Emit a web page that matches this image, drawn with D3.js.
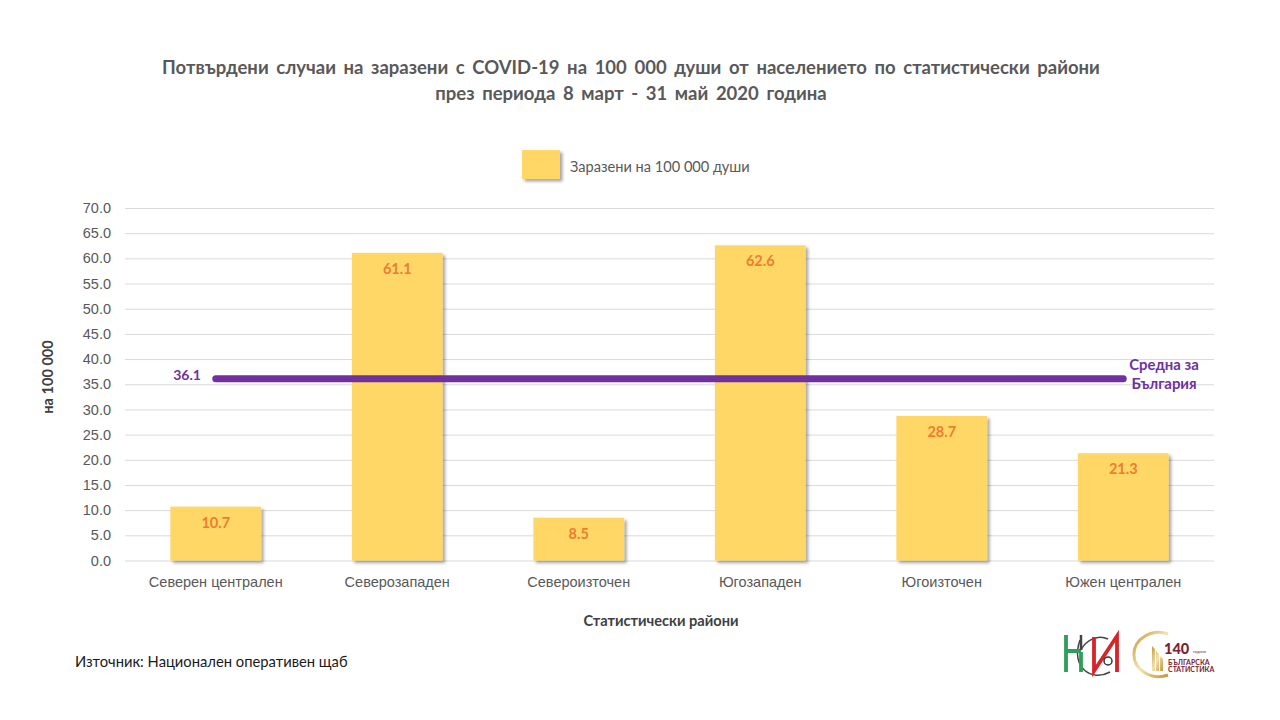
<!DOCTYPE html>
<html>
<head>
<meta charset="utf-8">
<title>COVID-19 по статистически райони</title>
<script src="https://d3js.org/d3.v7.min.js"></script>
<style>
    html, body { margin: 0; padding: 0; background: #fff; }
    svg { display: block; font-family: Lato, "Open Sans", sans-serif; }
    .title { font-size: 18.5px; font-weight: 700; fill: #595959; word-spacing: 3.1px; }
    .tick-label { font-size: 14.5px; fill: #595959; }
    .axis-title { font-size: 14.6px; font-weight: 700; fill: #404040; }
</style>
</head>
<body>
<svg id="chart" width="1280" height="720"></svg>
<script>
// values
const districts = ['Северен централен', 'Северозападен', 'Североизточен', 'Югозападен', 'Югоизточен', 'Южен централен'];
const infected = [10.7, 61.1, 8.5, 62.6, 28.7, 21.3];
const average = [36.1, 36.1, 36.1, 36.1, 36.1, 36.1];
const yTicks = [0, 5, 10, 15, 20, 25, 30, 35, 40, 45, 50, 55, 60, 65, 70];
const titleLines = ['Потвърдени случаи на заразени с COVID-19 на 100 000 души от населението по статистически райони', 'през периода 8 март - 31 май 2020 година'];

const svg = d3.select('#chart');

const x = d3.scaleBand().domain(districts).range([125, 1214]).paddingInner(0.5).paddingOuter(0.25);
const y = d3.scaleLinear().domain([0, 70]).range([560.5, 208]);

// drop shadow of the bars and the legend key
const defs = svg.append('defs');
const shadow = defs.append('filter').attr('id', 'shadow')
    .attr('x', '-10%').attr('y', '-10%').attr('width', '125%').attr('height', '125%');
shadow.append('feDropShadow').attr('dx', 2.5).attr('dy', 2.5).attr('stdDeviation', 1.6)
    .attr('flood-color', '#000').attr('flood-opacity', 0.35);

const gold = defs.append('linearGradient').attr('id', 'gold').attr('x1', 0).attr('y1', 0).attr('x2', 1).attr('y2', 1);
gold.append('stop').attr('offset', 0).attr('stop-color', '#c99a3c');
gold.append('stop').attr('offset', 0.5).attr('stop-color', '#f4e3b0');
gold.append('stop').attr('offset', 1).attr('stop-color', '#c5963a');

// titles
svg.append('g').selectAll('text').data(titleLines).join('text')
    .attr('class', 'title')
    .attr('x', 631)
    .attr('y', (d, i) => 73.5 + i * 26)
    .attr('text-anchor', 'middle')
    .text(d => d);

// legend
svg.append('rect').attr('x', 522).attr('y', 150).attr('width', 38).attr('height', 29)
    .attr('fill', '#ffd766').attr('filter', 'url(#shadow)');
svg.append('text').attr('class', 'tick-label').attr('x', 570).attr('y', 172).attr('style', 'font-size:14.6px').text('Заразени на 100 000 души');

// grid and y axis
const yAxis = d3.axisLeft(y).tickValues(yTicks).tickSize(-(1214 - 125)).tickPadding(14).tickFormat(d3.format('.1f'));
const yG = svg.append('g').attr('transform', 'translate(125,0)').call(yAxis);
yG.select('.domain').remove();
yG.selectAll('line').attr('stroke', '#d9d9d9').attr('stroke-width', 1);
yG.selectAll('text').attr('class', 'tick-label').style('font-family', 'inherit');

// x axis
const xAxis = d3.axisBottom(x).tickSize(0).tickPadding(16);
const xG = svg.append('g').attr('transform', 'translate(0,560.5)').call(xAxis);
xG.select('.domain').remove();
xG.selectAll('text').attr('class', 'tick-label').style('font-family', 'inherit');

// bars
svg.append('g').selectAll('rect').data(infected).join('rect')
    .attr('x', (d, i) => x(districts[i]))
    .attr('y', d => y(d))
    .attr('width', x.bandwidth())
    .attr('height', d => y(0) - y(d))
    .attr('fill', '#ffd766')
    .attr('filter', 'url(#shadow)');

svg.append('g').selectAll('text').data(infected).join('text')
    .attr('x', (d, i) => x(districts[i]) + x.bandwidth() / 2)
    .attr('y', d => y(d) + 21)
    .attr('text-anchor', 'middle')
    .attr('font-size', 14.5).attr('font-weight', 700).attr('fill', '#ed7d31')
    .text(d => d.toFixed(1));

// average line
const line = d3.line()
    .x((d, i) => x(districts[i]) + x.bandwidth() / 2)
    .y(d => y(d));
svg.append('path').datum(average)
    .attr('d', line)
    .attr('fill', 'none').attr('stroke', '#7030a0').attr('stroke-width', 7).attr('stroke-linecap', 'round');

svg.append('text').attr('x', 187).attr('y', 380).attr('text-anchor', 'middle')
    .attr('font-size', 14).attr('font-weight', 700).attr('fill', '#7030a0')
    .text(average[0].toFixed(1));
svg.append('g').selectAll('text').data(['Средна за', 'България']).join('text')
    .attr('x', 1164).attr('y', (d, i) => 370 + i * 19).attr('text-anchor', 'middle')
    .attr('font-size', 14.9).attr('font-weight', 700).attr('fill', '#7030a0')
    .text(d => d);

// axis titles
svg.append('text').attr('class', 'axis-title')
    .attr('transform', 'translate(53,377) rotate(-90)').attr('text-anchor', 'middle').text('на 100 000');
svg.append('text').attr('class', 'axis-title')
    .attr('x', 661).attr('y', 626).attr('text-anchor', 'middle').text('Статистически райони');

// source
svg.append('text').attr('x', 75).attr('y', 667).attr('font-size', 14.75).attr('fill', '#1a1a1a')
    .text('Източник: Национален оперативен щаб');

// NSI logo
const nsi = svg.append('g').attr('fill', 'none').attr('stroke-width', 3.8);
nsi.append('path').attr('d', 'M1080 640C1070 668 1092 682 1110 672').attr('stroke', '#444').attr('stroke-width', 1.5);
nsi.append('path').attr('d', 'M1108 639C1098 634 1086 640 1081 650').attr('stroke', '#444').attr('stroke-width', 1.5);
nsi.append('path').attr('d', 'M1066 635V672M1066 651H1081').attr('stroke', '#2f9e5b');
nsi.append('path').attr('d', 'M1081 635V650').attr('stroke', '#444').attr('stroke-width', 2.5);
nsi.append('path').attr('d', 'M1081 652V672').attr('stroke', '#2f9e5b');
nsi.append('path').attr('d', 'M1094 637V671L1117 636V672').attr('stroke', '#d8232a');
nsi.append('circle').attr('cx', 1108).attr('cy', 661).attr('r', 4).attr('stroke', '#333').attr('stroke-width', 1.5);

// 140 years logo
svg.append('path').attr('d', 'M1168 634A25 22 0 1 0 1168 675')
    .attr('fill', 'none').attr('stroke', 'url(#gold)').attr('stroke-width', 3);
svg.append('path').attr('d', 'M1152 671V646L1155 649V671ZM1156 671V651L1159 654V671ZM1160 671V656L1163 659V671Z').attr('fill', 'url(#gold)');
svg.append('text').attr('x', 1164).attr('y', 654).attr('font-size', 14.5).attr('font-weight', 900).attr('fill', '#7d2230').text('140');
svg.append('text').attr('x', 1193).attr('y', 653).attr('font-size', 4).attr('fill', '#7d2230').text('години');
svg.append('text').attr('x', 1168).attr('y', 665).attr('font-size', 7).attr('font-weight', 700).attr('fill', '#7d2230').text('БЪЛГАРСКА');
svg.append('text').attr('x', 1168).attr('y', 672).attr('font-size', 7).attr('font-weight', 700).attr('fill', '#7d2230').text('СТАТИСТИКА');
</script>
</body>
</html>
